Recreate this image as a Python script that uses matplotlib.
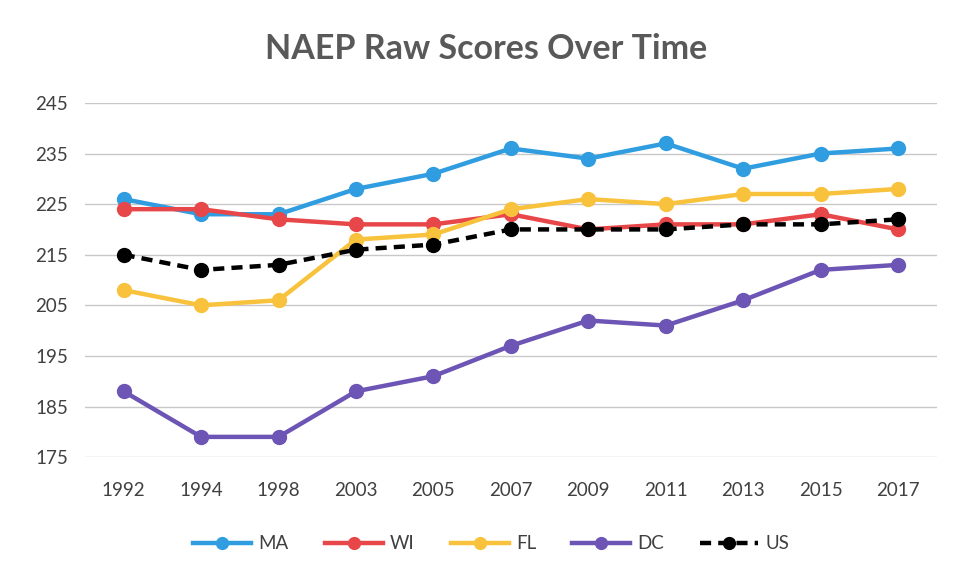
import numpy as np
import matplotlib
matplotlib.use("Agg")
import matplotlib.pyplot as plt

plt.rcParams["font.family"] = ["Lato", "DejaVu Sans"]

years = ["1992", "1994", "1998", "2003", "2005", "2007", "2009", "2011", "2013", "2015", "2017"]
ma = [226, 223, 223, 228, 231, 236, 234, 237, 232, 235, 236]
wi = [224, 224, 222, 221, 221, 223, 220, 221, 221, 223, 220]
fl = [208, 205, 206, 218, 219, 224, 226, 225, 227, 227, 228]
dc = [188, 179, 179, 188, 191, 197, 202, 201, 206, 212, 213]
us = [215, 212, 213, 216, 217, 220, 220, 220, 221, 221, 222]

fig = plt.figure(figsize=(9.54, 5.75), dpi=100)
ax = fig.add_axes([0.089, 0.205, 0.893, 0.616])

x = np.arange(len(years))
series = [("MA", ma, "#2F9DE0"), ("WI", wi, "#E8474A"),
          ("FL", fl, "#F9C23C"), ("DC", dc, "#6C55B5")]
for name, vals, c in series:
    ax.plot(x, vals, color=c, lw=3.2, marker="o", markersize=10, label=name, zorder=3)
ax.plot(x, us, color="black", lw=3.2, ls=(0, (2.5, 1.6)), marker="o", markersize=10,
        label="US", zorder=4)

ax.set_xlim(-0.5, len(years) - 0.5)
ax.set_ylim(175, 245)
ax.set_yticks(np.arange(175, 246, 10))
ax.set_xticks(x)
ax.set_xticklabels(years)
ax.grid(axis="y", color="#c8c8c8", lw=1)
ax.set_axisbelow(True)
for s in ax.spines.values():
    s.set_visible(False)
ax.tick_params(length=0, labelsize=13.5, colors="#404040")
ax.tick_params(axis="x", pad=18)
ax.tick_params(axis="y", pad=12)

fig.text(0.51, 0.915, "NAEP Raw Scores Over Time", ha="center", va="center",
         fontsize=24.5, fontweight="bold", color="#595959")

leg = ax.legend(loc="center", bbox_to_anchor=(0.477, -0.245), ncol=5, frameon=False,
                fontsize=13.5, handlelength=3.1, columnspacing=1.9, handletextpad=0.4,
                markerscale=0.85)
for t in leg.get_texts():
    t.set_color("#404040")

fig.savefig("out.png", dpi=100)
